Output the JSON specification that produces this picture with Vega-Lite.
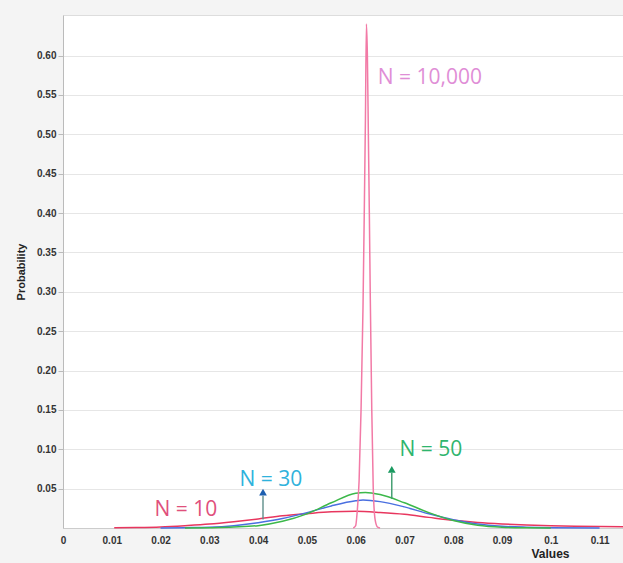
{
  "$schema": "https://vega.github.io/schema/vega-lite/v6.json",
  "autosize": {"type": "none"},
  "padding": {"left": 63, "top": 15, "right": 0, "bottom": 35},
  "width": 560,
  "height": 513,
  "background": "#f4f4f4",
  "config": {
    "view": {"fill": "white", "stroke": "#dddddd"},
    "axis": {"labelFont": "Liberation Sans", "titleFont": "Liberation Sans", "labelFontWeight": "bold", "titleFontWeight": "bold", "labelColor": "#333333", "titleColor": "#222222"}
  },
  "datasets": {
    "curves": [
      {"x": 0.0105, "p": 0.0002, "N": "10"},
      {"x": 0.015, "p": 0.0006, "N": "10"},
      {"x": 0.02, "p": 0.0014, "N": "10"},
      {"x": 0.025, "p": 0.003, "N": "10"},
      {"x": 0.03, "p": 0.005, "N": "10"},
      {"x": 0.035, "p": 0.008, "N": "10"},
      {"x": 0.04, "p": 0.0115, "N": "10"},
      {"x": 0.045, "p": 0.0155, "N": "10"},
      {"x": 0.05, "p": 0.0182, "N": "10"},
      {"x": 0.055, "p": 0.0205, "N": "10"},
      {"x": 0.06, "p": 0.0212, "N": "10"},
      {"x": 0.065, "p": 0.0198, "N": "10"},
      {"x": 0.07, "p": 0.0175, "N": "10"},
      {"x": 0.075, "p": 0.0135, "N": "10"},
      {"x": 0.08, "p": 0.0097, "N": "10"},
      {"x": 0.085, "p": 0.007, "N": "10"},
      {"x": 0.09, "p": 0.0052, "N": "10"},
      {"x": 0.095, "p": 0.0039, "N": "10"},
      {"x": 0.1, "p": 0.003, "N": "10"},
      {"x": 0.105, "p": 0.0023, "N": "10"},
      {"x": 0.11, "p": 0.0018, "N": "10"},
      {"x": 0.1148, "p": 0.0015, "N": "10"},
      {"x": 0.02, "p": 0.0, "N": "30"},
      {"x": 0.025, "p": 0.0004, "N": "30"},
      {"x": 0.03, "p": 0.001, "N": "30"},
      {"x": 0.035, "p": 0.003, "N": "30"},
      {"x": 0.04, "p": 0.0068, "N": "30"},
      {"x": 0.045, "p": 0.012, "N": "30"},
      {"x": 0.05, "p": 0.0195, "N": "30"},
      {"x": 0.055, "p": 0.028, "N": "30"},
      {"x": 0.06, "p": 0.0345, "N": "30"},
      {"x": 0.0615, "p": 0.0355, "N": "30"},
      {"x": 0.065, "p": 0.0335, "N": "30"},
      {"x": 0.07, "p": 0.0268, "N": "30"},
      {"x": 0.075, "p": 0.018, "N": "30"},
      {"x": 0.08, "p": 0.0105, "N": "30"},
      {"x": 0.085, "p": 0.005, "N": "30"},
      {"x": 0.09, "p": 0.0022, "N": "30"},
      {"x": 0.095, "p": 0.001, "N": "30"},
      {"x": 0.1, "p": 0.0004, "N": "30"},
      {"x": 0.11, "p": 0.0001, "N": "30"},
      {"x": 0.025, "p": 0.0, "N": "50"},
      {"x": 0.03, "p": 0.0004, "N": "50"},
      {"x": 0.035, "p": 0.0012, "N": "50"},
      {"x": 0.04, "p": 0.003, "N": "50"},
      {"x": 0.045, "p": 0.0085, "N": "50"},
      {"x": 0.05, "p": 0.018, "N": "50"},
      {"x": 0.055, "p": 0.032, "N": "50"},
      {"x": 0.06, "p": 0.0442, "N": "50"},
      {"x": 0.062, "p": 0.0452, "N": "50"},
      {"x": 0.065, "p": 0.0425, "N": "50"},
      {"x": 0.07, "p": 0.032, "N": "50"},
      {"x": 0.075, "p": 0.0195, "N": "50"},
      {"x": 0.08, "p": 0.0095, "N": "50"},
      {"x": 0.085, "p": 0.0035, "N": "50"},
      {"x": 0.09, "p": 0.001, "N": "50"},
      {"x": 0.095, "p": 0.0003, "N": "50"},
      {"x": 0.1, "p": 0.0001, "N": "50"},
      {"x": 0.0595, "p": 0.0, "N": "10000"},
      {"x": 0.06, "p": 0.003, "N": "10000"},
      {"x": 0.0603, "p": 0.02, "N": "10000"},
      {"x": 0.0607, "p": 0.06, "N": "10000"},
      {"x": 0.0611, "p": 0.15, "N": "10000"},
      {"x": 0.0615, "p": 0.28, "N": "10000"},
      {"x": 0.0618, "p": 0.42, "N": "10000"},
      {"x": 0.062, "p": 0.52, "N": "10000"},
      {"x": 0.0622, "p": 0.64, "N": "10000"},
      {"x": 0.0624, "p": 0.6, "N": "10000"},
      {"x": 0.0626, "p": 0.5, "N": "10000"},
      {"x": 0.0628, "p": 0.4, "N": "10000"},
      {"x": 0.063, "p": 0.29, "N": "10000"},
      {"x": 0.0633, "p": 0.15, "N": "10000"},
      {"x": 0.0636, "p": 0.05, "N": "10000"},
      {"x": 0.064, "p": 0.01, "N": "10000"},
      {"x": 0.0645, "p": 0.001, "N": "10000"},
      {"x": 0.065, "p": 0.0, "N": "10000"}
    ],
    "arrows": [
      {"x": 0.041, "p": 0.0107, "p2": 0.041, "tip": 0.0455, "N": "30"},
      {"x": 0.0674, "p": 0.0373, "p2": 0.07, "tip": 0.0745, "N": "50"}
    ],
    "labels": [
      {"x": 0.0252, "p": 0.0223, "label": "N = 10", "N": "10"},
      {"x": 0.0426, "p": 0.0615, "label": "N = 30", "N": "30"},
      {"x": 0.0754, "p": 0.0995, "label": "N = 50", "N": "50"},
      {"x": 0.0752, "p": 0.5716, "label": "N = 10,000", "N": "10000"}
    ]
  },
  "layer": [
    {
      "data": {"name": "curves"},
      "mark": {"type": "line", "strokeWidth": 1.5, "interpolate": "monotone"},
      "encoding": {
        "x": {"field": "x", "type": "quantitative",
          "scale": {"domain": [0, 0.1148], "nice": false, "zero": false},
          "axis": {"title": "Values", "values": [0, 0.01, 0.02, 0.03, 0.04, 0.05, 0.06, 0.07, 0.08, 0.09, 0.1, 0.11], "format": ".2~f", "grid": false, "ticks": false, "labelFlush": false, "domainColor": "#cccccc", "labelFontSize": 10, "labelPadding": 7, "titleFontSize": 12, "titleX": 487, "titleY": 25, "titleAlign": "center", "titleBaseline": "middle"}},
        "y": {"field": "p", "type": "quantitative",
          "scale": {"domain": [0, 0.6515], "nice": false},
          "axis": {"title": "Probability", "values": [0.05, 0.1, 0.15, 0.2, 0.25, 0.3, 0.35, 0.4, 0.45, 0.5, 0.55, 0.6], "format": ".2f", "grid": true, "gridColor": "#e6e6e6", "tickColor": "#bbbbbb", "tickSize": 5, "domainColor": "#bbbbbb", "labelFontSize": 10, "labelPadding": 2, "titleFontSize": 11, "titlePadding": 10}},
        "color": {"field": "N", "type": "nominal", "legend": null,
          "scale": {"domain": ["10", "30", "50", "10000"], "range": ["#e8365e", "#4a6fe0", "#3cb84a", "#f27aa6"]}},
        "order": {"field": "x", "type": "quantitative"}
      }
    },
    {
      "data": {"name": "arrows"},
      "mark": {"type": "rule", "strokeWidth": 1.4},
      "encoding": {
        "x": {"field": "x", "type": "quantitative"},
        "y": {"field": "p", "type": "quantitative"},
        "y2": {"field": "p2"},
        "color": {"field": "N", "type": "nominal", "legend": null,
          "scale": {"domain": ["30", "50"], "range": ["#5f8f8a", "#3a9a6a"]}}
      }
    },
    {
      "data": {"name": "arrows"},
      "mark": {"type": "point", "shape": "triangle-up", "filled": true, "size": 60, "opacity": 1},
      "encoding": {
        "x": {"field": "x", "type": "quantitative"},
        "y": {"field": "tip", "type": "quantitative"},
        "color": {"field": "N", "type": "nominal", "legend": null,
          "scale": {"domain": ["30", "50"], "range": ["#1d5fb0", "#1a9a60"]}}
      }
    },
    {
      "data": {"name": "labels"},
      "mark": {"type": "text", "font": "Open Sans", "fontSize": 21, "align": "center", "baseline": "middle"},
      "encoding": {
        "x": {"field": "x", "type": "quantitative"},
        "y": {"field": "p", "type": "quantitative"},
        "text": {"field": "label", "type": "nominal"},
        "color": {"field": "N", "type": "nominal", "legend": null,
          "scale": {"domain": ["10", "30", "50", "10000"], "range": ["#e0507c", "#2fb2dc", "#2fb56e", "#df8ed6"]}}
      }
    }
  ],
  "resolve": {"scale": {"color": "independent"}}
}
